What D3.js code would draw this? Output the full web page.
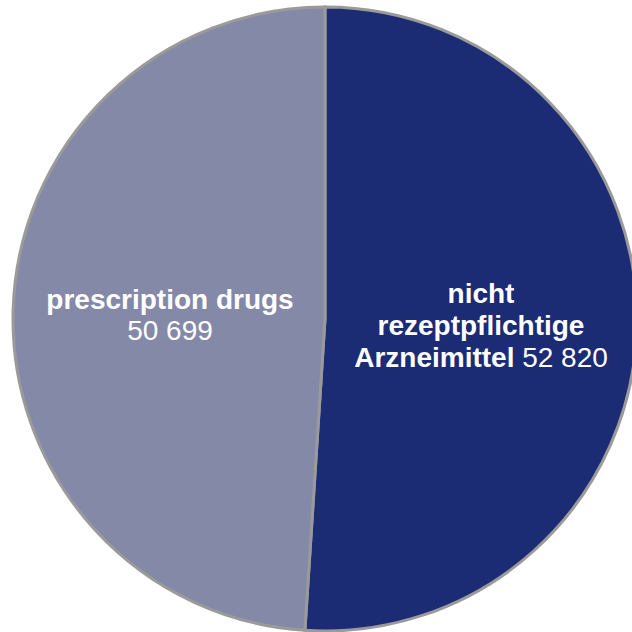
<!DOCTYPE html>
<html><head><meta charset="utf-8">
<script src="https://cdn.jsdelivr.net/npm/d3@7"></script>
<style>html,body{margin:0;padding:0;background:#fff;overflow:hidden}</style>
</head><body>
<svg id="c" width="632" height="632"></svg>
<script>
const categories = ["nicht rezeptpflichtige Arzneimittel", "prescription drugs"];
const values = [52820, 50699];
const valueLabels = ["52 820", "50 699"];
const colors = ["#1b2b74", "#8589a8"];

const svg = d3.select("#c");
const cx = 325, cy = 319, r = 312;
const g = svg.append("g").attr("transform", `translate(${cx},${cy})`);
const pie = d3.pie().sort(null).value(d => d)(values);
const arc = d3.arc().innerRadius(0).outerRadius(r);
g.selectAll("path").data(pie).join("path")
  .attr("d", arc)
  .attr("fill", (d, i) => colors[i])
  .attr("stroke", "#9a9a9a")
  .attr("stroke-width", 3);

const font = "'Liberation Sans', Arial, sans-serif";
// right label
const t1 = g.append("text").attr("text-anchor", "middle").attr("fill", "#fff")
  .style("font-family", font).style("font-size", "28px");
t1.append("tspan").attr("x", 156).attr("y", -16).attr("font-weight", "bold").text("nicht");
t1.append("tspan").attr("x", 156).attr("y", 16).attr("font-weight", "bold").text("rezeptpflichtige");
const l3 = t1.append("tspan").attr("x", 156).attr("y", 48);
l3.append("tspan").attr("font-weight", "bold").text("Arzneimittel");
l3.append("tspan").text(" " + valueLabels[0]);

// left label
const t2 = g.append("text").attr("text-anchor", "middle").attr("fill", "#fff")
  .style("font-family", font).style("font-size", "28px");
t2.append("tspan").attr("x", -155).attr("y", -10).attr("font-weight", "bold").text(categories[1]);
t2.append("tspan").attr("x", -155).attr("y", 21).text(valueLabels[1]);
</script>
</body></html>
